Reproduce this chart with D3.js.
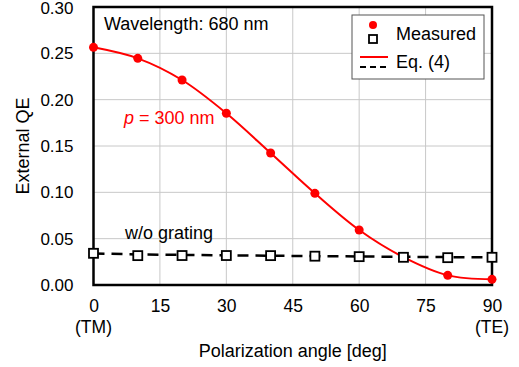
<!DOCTYPE html>
<html><head><meta charset="utf-8">
<script src="https://cdn.jsdelivr.net/npm/d3@7"></script>
<style>body{margin:0;background:#fff;} svg{display:block;font-family:"Liberation Sans",Arial,sans-serif;}</style>
</head><body>
<svg id="c" width="519" height="367"></svg>
<script>
const angles = [0,10,20,30,40,50,60,70,80,90];
const measuredGrating = [0.2565,0.2446,0.2212,0.1853,0.1424,0.0989,0.0593,0.030,0.0104,0.0061];
const measuredNoGrating = [0.0342,0.0317,0.0318,0.0318,0.0317,0.0311,0.0306,0.0299,0.0295,0.0299];
const eqGrating = [0.2565,0.2446,0.2212,0.1853,0.1424,0.0989,0.0593,0.030,0.0104,0.0061];
const eqNoGrating = [0.0340,0.0330,0.0325,0.0320,0.0316,0.0312,0.0308,0.0304,0.0301,0.0299];
const xTicks = [0,15,30,45,60,75,90];
const yTicks = [0,0.05,0.10,0.15,0.20,0.25,0.30];

const svg = d3.select("#c");
const x = d3.scaleLinear().domain([0,90]).range([93.5,492]);
const y = d3.scaleLinear().domain([0,0.30]).range([285,7]);

// grid
svg.append("g").selectAll("line").data(xTicks).join("line")
  .attr("x1",d=>x(d)).attr("x2",d=>x(d)).attr("y1",y(0)).attr("y2",y(0.3))
  .attr("stroke","#c8c8c8").attr("stroke-width",1);
svg.append("g").selectAll("line").data(yTicks).join("line")
  .attr("x1",x(0)).attr("x2",x(90)).attr("y1",d=>y(d)).attr("y2",d=>y(d))
  .attr("stroke","#c8c8c8").attr("stroke-width",1);

// axes tick labels
const yAxis = d3.axisLeft(y).tickValues(yTicks).tickFormat(d3.format(".2f")).tickSize(0).tickPadding(20);
const gy = svg.append("g").attr("transform",`translate(${x(0)},0)`).call(yAxis);
gy.select(".domain").remove();
gy.selectAll("text").attr("font-size",17).attr("fill","#000").attr("font-family","Liberation Sans, Arial, sans-serif");
gy.selectAll("text").filter(d=>d===0.30).attr("dy","0.36em");

const xAxis = d3.axisBottom(x).tickValues(xTicks).tickSize(0).tickPadding(15);
const gx = svg.append("g").attr("transform",`translate(0,${y(0)})`).call(xAxis);
gx.select(".domain").remove();
gx.selectAll("text").attr("font-size",17.5).attr("fill","#000").attr("font-family","Liberation Sans, Arial, sans-serif");
svg.append("text").attr("x",x(0)).attr("y",333).attr("text-anchor","middle").attr("font-size",17.5).text("(TM)");
svg.append("text").attr("x",x(90)).attr("y",333).attr("text-anchor","middle").attr("font-size",17.5).text("(TE)");

svg.append("text").attr("x",(x(0)+x(90))/2).attr("y",357).attr("text-anchor","middle").attr("font-size",18).text("Polarization angle [deg]");
svg.append("text").attr("transform","translate(29,146) rotate(-90)").attr("text-anchor","middle").attr("font-size",18).text("External QE");

// curves
const pts = (a,v)=>a.map((d,i)=>[d,v[i]]);
svg.append("path").datum(pts(angles,eqNoGrating))
  .attr("d",d3.line().x(d=>x(d[0])).y(d=>y(d[1])))
  .attr("fill","none").attr("stroke","#000").attr("stroke-width",2.5).attr("stroke-dasharray","11,7");
svg.append("path").datum(pts(angles,eqGrating))
  .attr("d",d3.line().x(d=>x(d[0])).y(d=>y(d[1])).curve(d3.curveCatmullRom))
  .attr("fill","none").attr("stroke","#ff0000").attr("stroke-width",2);

// frame
svg.append("rect").attr("x",x(0)).attr("y",y(0.3)).attr("width",x(90)-x(0)).attr("height",y(0)-y(0.3))
  .attr("fill","none").attr("stroke","#000").attr("stroke-width",2.5);

// markers
svg.append("g").selectAll("circle").data(pts(angles,measuredGrating)).join("circle")
  .attr("cx",d=>x(d[0])).attr("cy",d=>y(d[1])).attr("r",4.5).attr("fill","#ff0000");
svg.append("g").selectAll("rect").data(pts(angles,measuredNoGrating)).join("rect")
  .attr("x",d=>x(d[0])-4.5).attr("y",d=>y(d[1])-4.5).attr("width",9).attr("height",9)
  .attr("fill","#fff").attr("stroke","#000").attr("stroke-width",1.8);

// annotations
svg.append("text").attr("x",104).attr("y",30).attr("font-size",18).text("Wavelength: 680 nm");
const pt = svg.append("text").attr("x",124).attr("y",124).attr("font-size",18).attr("fill","#ff0000");
pt.append("tspan").attr("font-style","italic").text("p");
pt.append("tspan").text(" = 300 nm");
svg.append("text").attr("x",125).attr("y",239).attr("font-size",18).text("w/o grating");

// legend
svg.append("rect").attr("x",352).attr("y",15).attr("width",132).attr("height",64)
  .attr("fill","#fff").attr("stroke","#555").attr("stroke-width",1);
svg.append("circle").attr("cx",373).attr("cy",25).attr("r",4).attr("fill","#ff0000");
svg.append("rect").attr("x",369).attr("y",35).attr("width",8).attr("height",8).attr("fill","#fff").attr("stroke","#000").attr("stroke-width",1.8);
svg.append("text").attr("x",396).attr("y",40).attr("font-size",18).text("Measured");
svg.append("line").attr("x1",360).attr("x2",388).attr("y1",57).attr("y2",57).attr("stroke","#ff0000").attr("stroke-width",2);
svg.append("line").attr("x1",360).attr("x2",389).attr("y1",67).attr("y2",67).attr("stroke","#000").attr("stroke-width",2).attr("stroke-dasharray","6,4");
svg.append("text").attr("x",396).attr("y",68).attr("font-size",18).text("Eq. (4)");
</script>
</body></html>
